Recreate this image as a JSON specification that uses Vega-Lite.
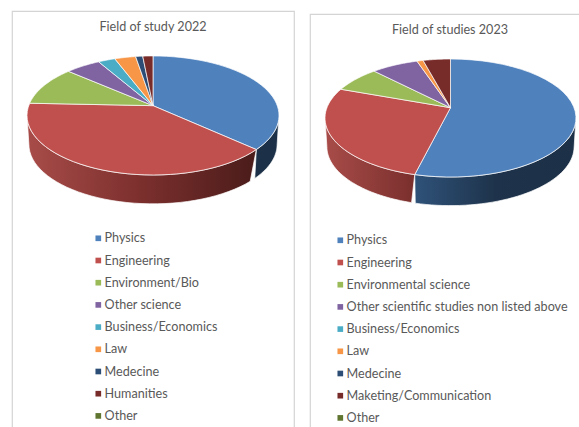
{
"$schema":"https://vega.github.io/schema/vega-lite/v6.json",
"background":"white",
"padding":{"left":11,"top":10,"right":0,"bottom":0},
"spacing":16,
"center":true,
"bounds":"flush",
"resolve":{"scale":{"color":"independent"},"legend":{"color":"independent"}},
"config":{"view":{"stroke":"#d4d4d4","strokeWidth":1.2},"title":{"font":"Lato","fontSize":12.6,"fontWeight":"normal","color":"#595959","anchor":"middle"},
"legend":{"orient":"none","title":null,"symbolType":"square","symbolSize":32,"symbolStrokeWidth":0,"labelFont":"Lato","labelFontSize":12.6,"labelColor":"#595959","rowPadding":9.2,"labelOffset":0,"labelLimit":300,"padding":0}},
"hconcat":[
{"width":282,"height":424,
"title":{"text":"Field of study 2022","dy":27},
"data":{"values":[
{"field":"Physics","rank":1,"share":34.7},
{"field":"Engineering","rank":2,"share":43.6},
{"field":"Environment/Bio","rank":3,"share":10.0},
{"field":"Other science","rank":4,"share":4.6},
{"field":"Business/Economics","rank":5,"share":2.2},
{"field":"Law","rank":6,"share":2.7},
{"field":"Medecine","rank":7,"share":0.9},
{"field":"Humanities","rank":8,"share":1.3},
{"field":"Other","rank":9,"share":0}
]},
"transform":[
{"window":[{"op":"sum","field":"share","as":"cum"}],"sort":[{"field":"rank"}]},
{"filter":"datum.share>0"},
{"calculate":"(datum.cum-datum.share)*PI/50","as":"a0"},
{"calculate":"datum.cum*PI/50","as":"a1"},
{"calculate":"sequence(0,82)","as":"s"},
{"flatten":["s"]},
{"calculate":"max(datum.a0,PI/2)","as":"w0"},
{"calculate":"min(datum.a1,3*PI/2)","as":"w1"},
{"calculate":"datum.s<=40?datum.w0+datum.s/40*(datum.w1-datum.w0):datum.w1-(datum.s-41)/41*(datum.w1-datum.w0)","as":"wa"},
{"calculate":"datum.s<=40?sin(datum.wa):0.985*sin(datum.wa)","as":"wx"},
{"calculate":"datum.s<=40?cos(datum.wa):cos(datum.wa)-0.485","as":"wy"},
{"calculate":"datum.a0+datum.s/40*(datum.a1-datum.a0)","as":"ta"},
{"calculate":"datum.s==41?0:sin(datum.ta)","as":"tx"},
{"calculate":"datum.s==41?0.165:cos(datum.ta)","as":"ty"}
],
"layer":[
{"transform":[{"filter":"datum.field=='Physics'&&datum.w1>datum.w0"}],
"mark":{"type":"line","filled":true,"interpolate":"linear-closed","stroke":"white","strokeWidth":0.7,"fill":"#1c3148"},
"encoding":{"x":{"field":"wx","type":"quantitative","scale":{"domain":[-1.119,1.119],"nice":false,"zero":false},"axis":null},
"y":{"field":"wy","type":"quantitative","scale":{"domain":[-5.37,1.756],"nice":false,"zero":false},"axis":null},
"order":{"field":"s","type":"quantitative"}}},
{"transform":[{"filter":"datum.field=='Engineering'&&datum.w1>datum.w0"}],
"mark":{"type":"line","filled":true,"interpolate":"linear-closed","stroke":"white","strokeWidth":0.7,"fill":{"gradient":"linear","x1":0,"y1":0,"x2":1,"y2":0,"stops":[{"offset":0,"color":"#a84c49"},{"offset":0.5,"color":"#7b2f2d"},{"offset":1,"color":"#4a1c1a"}]}},
"encoding":{"x":{"field":"wx","type":"quantitative"},"y":{"field":"wy","type":"quantitative"},"order":{"field":"s","type":"quantitative"}}},
{"transform":[{"filter":"datum.s<=41"}],
"mark":{"type":"line","filled":true,"interpolate":"linear-closed","stroke":"white","strokeWidth":0.7},
"encoding":{"x":{"field":"tx","type":"quantitative"},"y":{"field":"ty","type":"quantitative"},"order":{"field":"s","type":"quantitative"},
"color":{"field":"field","type":"nominal","scale":{"domain":["Physics","Engineering","Environment/Bio","Other science","Business/Economics","Law","Medecine","Humanities","Other"],"range":["#4F81BD","#C0504D","#9BBB59","#8064A2","#4BACC6","#F79646","#2C4D75","#772C2A","#5F7530"]},"legend":{"legendX":80,"legendY":221}}}}
]},
{"width":280,"height":418,
"title":{"text":"Field of studies 2023","dy":27},
"data":{"values":[
{"field":"Physics","rank":1,"share":54.6},
{"field":"Engineering","rank":2,"share":28.5},
{"field":"Environmental science","rank":3,"share":6.5},
{"field":"Other scientific studies non listed above","rank":4,"share":6.1},
{"field":"Business/Economics","rank":5,"share":0},
{"field":"Law","rank":6,"share":0.8},
{"field":"Medecine","rank":7,"share":0},
{"field":"Maketing/Communication","rank":8,"share":3.5},
{"field":"Other","rank":9,"share":0}
]},
"transform":[
{"window":[{"op":"sum","field":"share","as":"cum"}],"sort":[{"field":"rank"}]},
{"filter":"datum.share>0"},
{"calculate":"(datum.cum-datum.share)*PI/50","as":"a0"},
{"calculate":"datum.cum*PI/50","as":"a1"},
{"calculate":"sequence(0,82)","as":"s"},
{"flatten":["s"]},
{"calculate":"max(datum.a0,PI/2)","as":"w0"},
{"calculate":"min(datum.a1,3*PI/2)","as":"w1"},
{"calculate":"datum.s<=40?datum.w0+datum.s/40*(datum.w1-datum.w0):datum.w1-(datum.s-41)/41*(datum.w1-datum.w0)","as":"wa"},
{"calculate":"datum.s<=40?sin(datum.wa):0.985*sin(datum.wa)","as":"wx"},
{"calculate":"datum.s<=40?cos(datum.wa):cos(datum.wa)-0.485","as":"wy"},
{"calculate":"datum.a0+datum.s/40*(datum.a1-datum.a0)","as":"ta"},
{"calculate":"datum.s==41?0:sin(datum.ta)","as":"tx"},
{"calculate":"datum.s==41?0.175:cos(datum.ta)","as":"ty"}
],
"layer":[
{"transform":[{"filter":"datum.field=='Physics'&&datum.w1>datum.w0"}],
"mark":{"type":"line","filled":true,"interpolate":"linear-closed","stroke":"white","strokeWidth":0.7,"fill":{"gradient":"linear","x1":0,"y1":0,"x2":1,"y2":0,"stops":[{"offset":0,"color":"#2f5279"},{"offset":0.5,"color":"#1e334b"},{"offset":1,"color":"#1c3047"}]}},
"encoding":{"x":{"field":"wx","type":"quantitative","scale":{"domain":[-1.1195,1.1116],"nice":false,"zero":false},"axis":null},
"y":{"field":"wy","type":"quantitative","scale":{"domain":[-5.322,1.763],"nice":false,"zero":false},"axis":null},
"order":{"field":"s","type":"quantitative"}}},
{"transform":[{"filter":"datum.field=='Engineering'&&datum.w1>datum.w0"}],
"mark":{"type":"line","filled":true,"interpolate":"linear-closed","stroke":"white","strokeWidth":0.7,"fill":{"gradient":"linear","x1":0,"y1":0,"x2":1,"y2":0,"stops":[{"offset":0,"color":"#a84c49"},{"offset":1,"color":"#7a2f2d"}]}},
"encoding":{"x":{"field":"wx","type":"quantitative"},"y":{"field":"wy","type":"quantitative"},"order":{"field":"s","type":"quantitative"}}},
{"transform":[{"filter":"datum.s<=41"}],
"mark":{"type":"line","filled":true,"interpolate":"linear-closed","stroke":"white","strokeWidth":0.7},
"encoding":{"x":{"field":"tx","type":"quantitative"},"y":{"field":"ty","type":"quantitative"},"order":{"field":"s","type":"quantitative"},
"color":{"field":"field","type":"nominal","scale":{"domain":["Physics","Engineering","Environmental science","Other scientific studies non listed above","Business/Economics","Law","Medecine","Maketing/Communication","Other"],"range":["#4F81BD","#C0504D","#9BBB59","#8064A2","#4BACC6","#F79646","#2C4D75","#772C2A","#5F7530"]},"legend":{"legendX":24,"legendY":220}}}}
]}
]
}
